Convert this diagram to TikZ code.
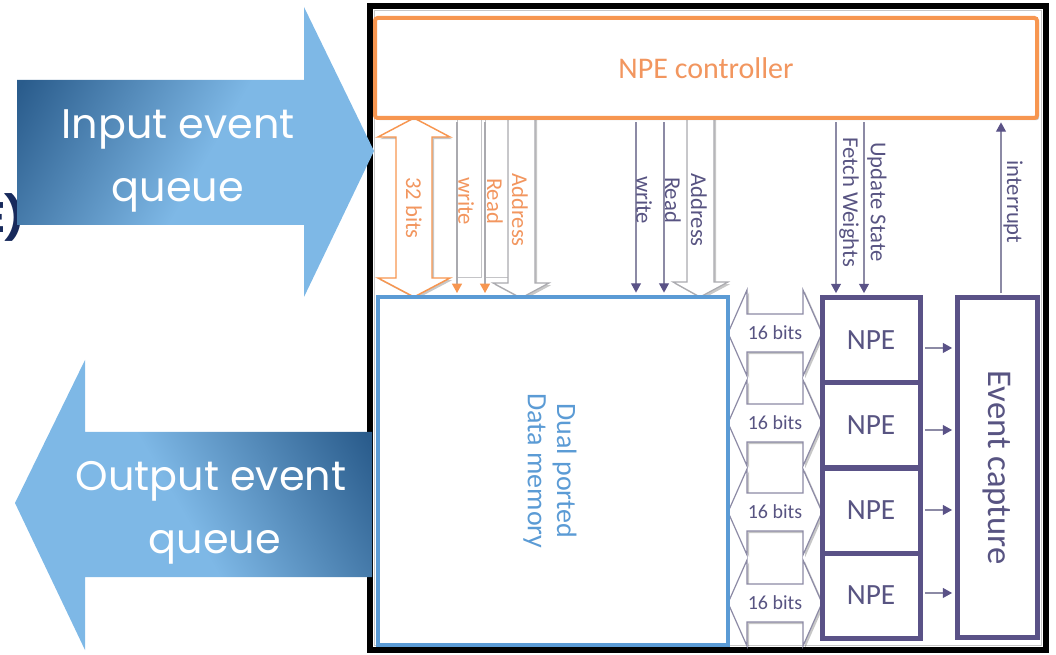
\documentclass[tikz,border=0pt]{standalone}
\usepackage{fontspec}
\setmainfont{Carlito}
\newfontfamily\gothic{Poppins}
\usetikzlibrary{arrows.meta,shadows}

\definecolor{qdark}{RGB}{42,92,140}
\definecolor{qlight}{RGB}{126,184,230}
\definecolor{navytext}{RGB}{24,42,92}
\definecolor{ctrlorange}{RGB}{247,150,80}
\definecolor{orangetext}{RGB}{242,150,95}
\definecolor{memblue}{RGB}{91,155,213}
\definecolor{npepurple}{RGB}{90,82,135}
\definecolor{purpletext}{RGB}{88,84,130}
\definecolor{sigline}{RGB}{140,138,165}
\definecolor{busgray}{RGB}{170,170,175}

\pgfdeclarehorizontalshading{queueshade}{100bp}{color(0bp)=(qdark); color(22bp)=(qdark); color(52bp)=(qlight); color(100bp)=(qlight)}

\tikzset{
  softshadow/.style={drop shadow={shadow xshift=1.6pt, shadow yshift=-1.6pt, opacity=0.22, fill=black}},
  queuetext/.style={text=white, font=\gothic\fontsize{31}{37}\selectfont, anchor=base, inner sep=0pt},
  ctrlbox/.style={draw=ctrlorange, line width=3pt, rounded corners=2pt, fill=white, softshadow,
    minimum width=496.5pt, minimum height=75pt, text=orangetext, font=\fontsize{22.5}{27}\selectfont},
  membox/.style={draw=memblue, line width=3pt, fill=white, softshadow,
    minimum width=262.5pt, minimum height=261pt},
  npebox/.style={draw=npepurple, line width=3.75pt, fill=white, softshadow,
    minimum width=73.5pt, minimum height=63.75pt, text=purpletext, font=\fontsize{22}{26}\selectfont},
  capbox/.style={draw=npepurple, line width=3.75pt, fill=white, softshadow,
    minimum width=60pt, minimum height=254.25pt},
  vlabel/.style={rotate=-90, inner sep=0pt, font=\fontsize{17}{20}\selectfont},
  olabel/.style={vlabel, text=orangetext},
  plabel/.style={vlabel, text=purpletext},
  osig/.style={draw=busgray, line width=0.9pt, shorten <=1.5pt, shorten >=1.5pt,
    -{Triangle[width=7.5pt,length=7pt,color=ctrlorange]}},
  psig/.style={draw=sigline, line width=0.9pt, shorten <=1.8pt, shorten >=1.8pt,
    -{Triangle[width=7.5pt,length=7pt,color=npepurple]}},
  blockarrow/.style={draw=busgray, line width=0.9pt, fill=white, softshadow},
  bitsarrow/.style={draw=sigline, line width=0.9pt, fill=white, softshadow},
}

\begin{document}
\begin{tikzpicture}[x=0.75pt,y=-0.75pt]
\useasboundingbox (0,0) rectangle (1056,655);

% outer frame
\draw[line width=4.5pt] (370,6) rectangle (1046,650);
\draw[gray!45, line width=0.8pt] (374.5,10.5) rectangle (1041.5,645.5);

% heading text left behind the input queue
\node[anchor=base east, text=navytext, font=\gothic\bfseries\fontsize{32}{38}\selectfont, inner sep=0pt] (hdr) at (25,233) {E\kern-1pt)};

% buses from the controller to the memory
\filldraw[draw=ctrlorange, line width=1.1pt, fill=white, softshadow]
  (414,118) -- (450,137) -- (432,137) -- (432,278) -- (450,278) -- (414,297)
  -- (378,278) -- (396,278) -- (396,137) -- (378,137) -- cycle;
\draw[busgray!70, line width=0.6pt] (457,118) rectangle (481,277) (485,118) rectangle (508,277);
\filldraw[blockarrow] (508,118) -- (535,118) -- (535,283) -- (549,283) -- (521,298) -- (493,283) -- (508,283) -- cycle;
\filldraw[blockarrow] (687,118) -- (714,118) -- (714,282) -- (728,282) -- (700,297) -- (673,282) -- (687,282) -- cycle;

% 16-bit links between memory and the NPEs
\foreach \c [count=\i] in {333,423,512,603}{
  \filldraw[bitsarrow] (728,\c) -- (747,\c-43) -- (747,\c-19) -- (803,\c-19) -- (803,\c-43)
    -- (822,\c) -- (803,\c+43) -- (803,\c+19) -- (747,\c+19) -- (747,\c+43) -- cycle;
  \node[text=purpletext, font=\fontsize{15}{18}\selectfont] (bits\i) at (775,\c) {16 bits};
}

% blocks
\node[ctrlbox] (ctrl) at (706,68) {NPE controller};
\node[membox] (mem) at (553,471) {};
\node[text=memblue, rotate=-90, align=center, font=\fontsize{21}{22}\selectfont] (memlbl) at (550,471) {Dual ported\\Data memory};
\node[npebox] (npe1) at (871,340.5) {NPE};
\node[npebox] (npe2) at (871,425.5) {NPE};
\node[npebox] (npe3) at (871,510.5) {NPE};
\node[npebox] (npe4) at (871,595.5) {NPE};
\node[capbox] (cap) at (997,467.5) {};
\node[rotate=-90, text=purpletext, font=\fontsize{26}{30}\selectfont] (caplbl) at (cap) {Event capture};

% control signals
\coordinate (xw1) at (457,0);
\coordinate (xr1) at (485,0);
\coordinate (xw2) at (636,0);
\coordinate (xr2) at (664,0);
\coordinate (xfw) at (836,0);
\coordinate (xus) at (864,0);
\coordinate (xint) at (1001,0);
\draw[osig] (xw1 |- ctrl.south) -- (xw1 |- mem.north);
\draw[osig] (xr1 |- ctrl.south) -- (xr1 |- mem.north);
\draw[psig] (xw2 |- ctrl.south) -- (xw2 |- mem.north);
\draw[psig] (xr2 |- ctrl.south) -- (xr2 |- mem.north);
\draw[psig] (xfw |- ctrl.south) -- (xfw |- npe1.north);
\draw[psig] (xus |- ctrl.south) -- (xus |- npe1.north);
\draw[psig] (xint |- cap.north) -- (xint |- ctrl.south);

% NPE outputs to the event capture unit
\foreach \k/\dy in {1/-5.6pt,2/-3.4pt,3/0.4pt,4/1.9pt}{
  \draw[psig] ([yshift=\dy]npe\k.east) -- ([yshift=\dy]npe\k.east -| cap.west);
}

% bus labels
\node[olabel] (l32) at (414,208) {32 bits};
\node[olabel] (lw1) at (466,201) {write};
\node[olabel] (lr1) at (495,201) {Read};
\node[olabel] (la1) at (520,210) {Address};
\node[plabel] (lw2) at (644,200) {write};
\node[plabel] (lr2) at (673,200) {Read};
\node[plabel] (la2) at (699,210) {Address};
\node[plabel] (lfw) at (849,202) {Fetch Weights};
\node[plabel] (lus) at (877,202) {Update State};
\node[plabel] (lint) at (1013,202) {interrupt};

% event queues
\shade[shading=queueshade, shading angle=-30]
  (17,80) -- (304,80) -- (304,7) -- (374,151) -- (304,297) -- (304,225) -- (17,225) -- cycle;
\node[queuetext] (inq1) at (178,139) {Input event};
\node[queuetext] (inq2) at (178,202) {queue};
\shade[shading=queueshade, shading angle=-150]
  (372,432) -- (85,432) -- (85,360) -- (15,503) -- (85,650) -- (85,577) -- (372,577) -- cycle;
\node[queuetext] (outq1) at (211,490) {Output event};
\node[queuetext] (outq2) at (215,553) {queue};
\end{tikzpicture}
\end{document}
